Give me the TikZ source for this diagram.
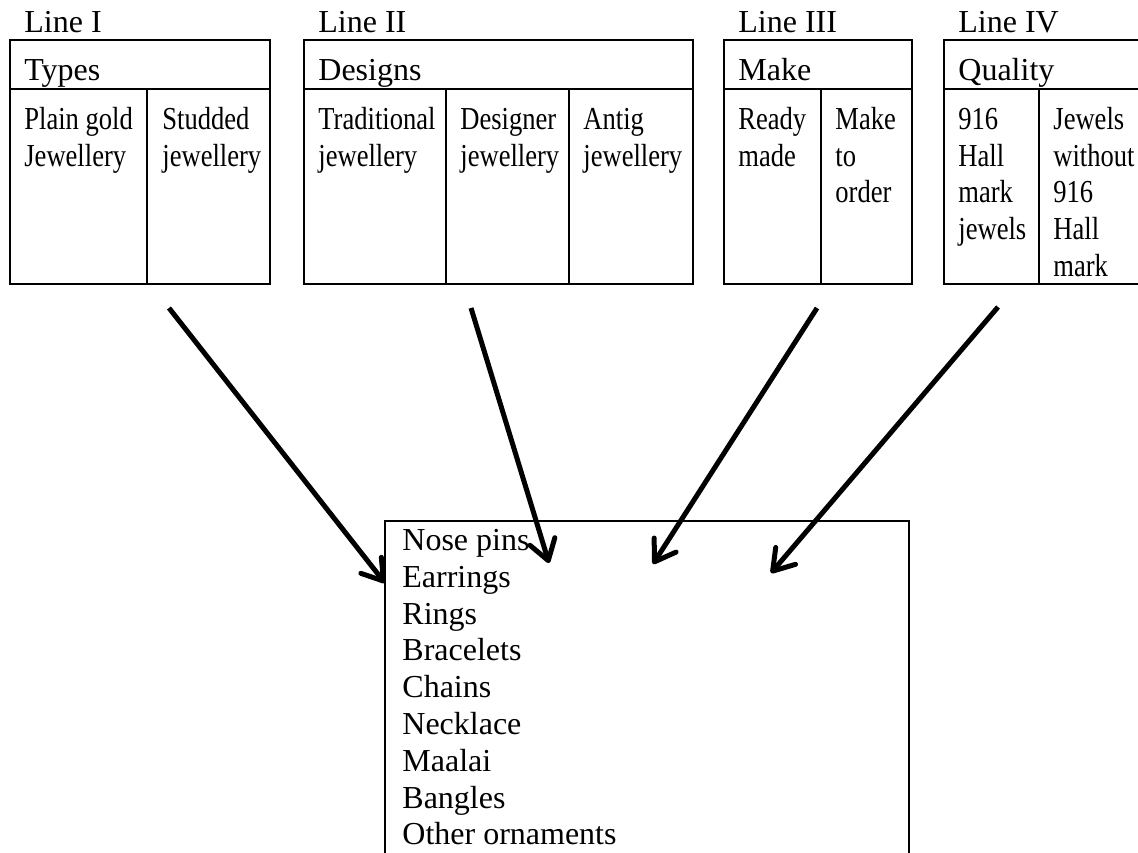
\documentclass[tikz,border=0pt]{standalone}
\usepackage{fontspec}
\setmainfont{Liberation Serif}
\newfontfamily\condfont[FakeStretch=0.83]{Liberation Serif}
\usetikzlibrary{arrows.meta}
\newcommand\mystrut{\rule{0pt}{12.4pt}}
\begin{document}
\begin{tikzpicture}[x=0.5pt,y=-0.5pt,
  frame/.style={line width=1pt},
  lbl/.style={anchor=north west,inner sep=0pt,align=left,font=\fontsize{16}{18.4}\selectfont},
  cell/.style={anchor=north west,inner sep=0pt,align=left,font=\condfont\fontsize{16}{18.4}\selectfont},
  arr/.style={line width=2.5pt,-{Straight Barb[length=10pt,width=13pt,round]}}]
\useasboundingbox (0,0) rectangle (1138,852);
\clip (0,0) rectangle (1138,852);
% box frames
\draw[frame] (10,40) rectangle (270,284) (10,89) -- (270,89) (147,89) -- (147,284);
\draw[frame] (304,40) rectangle (693,284) (304,89) -- (693,89) (446,89) -- (446,284) (569,89) -- (569,284);
\draw[frame] (724,40) rectangle (912,284) (724,89) -- (912,89) (821,89) -- (821,284);
\draw[frame] (944,40) rectangle (1160,284) (944,89) -- (1160,89) (1039,89) -- (1039,284);
\draw[frame] (385,870) -- (385,521) -- (909,521) -- (909,870);
% line labels
\node[lbl] (l1) at (24,7.2) {\mystrut Line I};
\node[lbl] (l2) at (318,7.2) {\mystrut Line II};
\node[lbl] (l3) at (738,7.2) {\mystrut Line III};
\node[lbl] (l4) at (958,7.2) {\mystrut Line IV};
% headers
\node[lbl] (h1) at (24,55.2) {\mystrut Types};
\node[lbl] (h2) at (318,55.2) {\mystrut Designs};
\node[lbl] (h3) at (738,55.2) {\mystrut Make};
\node[lbl] (h4) at (958,55.2) {\mystrut Quality};
% cells
\node[cell] (c11) at (24,104) {\mystrut Plain gold\\Jewellery};
\node[cell] (c12) at (162,104) {\mystrut Studded\\jewellery};
\node[cell] (c21) at (318,104) {\mystrut Traditional\\jewellery};
\node[cell] (c22) at (460,104) {\mystrut Designer\\jewellery};
\node[cell] (c23) at (583,104) {\mystrut Antig\\jewellery};
\node[cell] (c31) at (738,104) {\mystrut Ready\\made};
\node[cell] (c32) at (835,104) {\mystrut Make\\to\\order};
\node[cell] (c41) at (958,104) {\mystrut 916\\Hall\\mark\\jewels};
\node[cell] (c42) at (1053,104) {\mystrut Jewels\\without\\916\\Hall\\mark};
% product list
\node[lbl] (list) at (402,525.2) {\mystrut Nose pins\\Earrings\\Rings\\Bracelets\\Chains\\Necklace\\Maalai\\Bangles\\Other ornaments};
% arrows
\coordinate (s1) at (169,308);
\coordinate (s2) at (471,308);
\coordinate (s3) at (817,308);
\coordinate (s4) at (998,307);
\coordinate (t1) at (385,583);
\coordinate (t2) at (549,563);
\coordinate (t3) at (653,564);
\coordinate (t4) at (771,573);
\draw[arr] (s1) -- (t1);
\draw[arr] (s2) -- (t2);
\draw[arr] (s3) -- (t3);
\draw[arr] (s4) -- (t4);
\end{tikzpicture}
\end{document}
